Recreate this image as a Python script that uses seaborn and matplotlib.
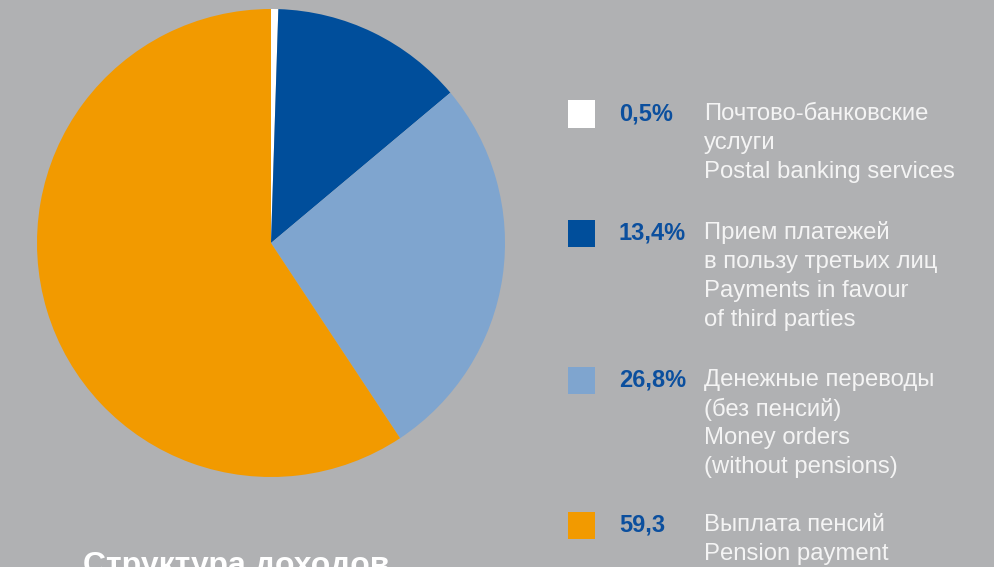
import seaborn as sns
import matplotlib.pyplot as plt
from matplotlib.patches import Rectangle

# data
shares = [0.5, 13.4, 26.8, 59.3]
pct_labels = ['0,5%', '13,4%', '26,8%', '59,3']
descriptions = [
    'Почтово-банковские\nуслуги\nPostal banking services',
    'Прием платежей\nв пользу третьих лиц\nPayments in favour\nof third parties',
    'Денежные переводы\n(без пенсий)\nMoney orders\n(without pensions)',
    'Выплата пенсий\nPension payment',
]
colors = ['#ffffff', '#004e9b', '#7fa5cf', '#f29a00']
title = 'Структура доходов'

BG = '#b0b1b3'
W, H = 994, 567

sns.set_style('white')
plt.rcParams['font.family'] = ['Liberation Sans', 'DejaVu Sans']

fig = plt.figure(figsize=(W / 100, H / 100), dpi=100, facecolor=BG)

# pie: centre (271, 243), radius 234 px
cx, cy, r = 271, 243, 234
ax = fig.add_axes([(cx - r) / W, 1 - (cy + r) / H, 2 * r / W, 2 * r / H])
ax.set_facecolor(BG)
ax.pie(shares, colors=colors, startangle=90, counterclock=False,
       wedgeprops=dict(linewidth=0), radius=1)
ax.set_xlim(-1, 1)
ax.set_ylim(-1, 1)
ax.set_aspect('equal')
ax.axis('off')

# legend
row_y = [114, 233, 380, 525]
line_h = 29
for i, (pct, desc, col) in enumerate(zip(pct_labels, descriptions, colors)):
    y = row_y[i]
    fig.patches.append(Rectangle((568 / W, 1 - (y + 13.5) / H), 27 / W, 27 / H,
                                 transform=fig.transFigure, facecolor=col,
                                 edgecolor='none'))
    fig.text(619 / W, 1 - y / H, pct, fontsize=17, fontweight='bold',
             color='#0b4f9e', va='center', ha='left')
    for j, line in enumerate(desc.split('\n')):
        fig.text(704 / W, 1 - (y + j * line_h) / H, line, fontsize=17.2,
                 color='#f4f4f4', va='center', ha='left')

fig.text(236 / W, 1 - 551 / H, title, fontsize=23, fontweight='bold',
         color='white', ha='center', va='top')

fig.savefig('out.png', dpi=100, facecolor=BG)
